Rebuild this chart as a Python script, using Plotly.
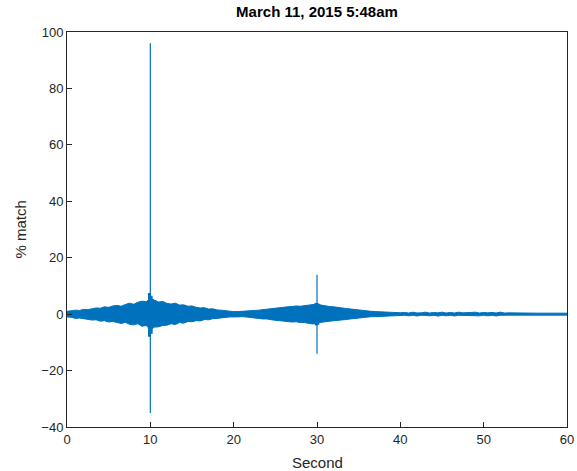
import plotly.graph_objects as go

# Time grid (seconds), 0.5 s steps from 0 to 60
TIME = [i * 0.5 for i in range(121)]

# Upper envelope of the % match signal
UPPER = [1.0, 1.2, 1.4, 1.3, 1.7, 1.6, 2.0, 2.2, 2.1, 2.6, 2.4, 2.9, 3.1, 2.8, 3.4, 3.9, 3.5, 4.2, 4.6, 4.4,
         5.6, 4.8, 4.3, 4.5, 3.8, 3.6, 3.9, 3.2, 3.3, 2.8, 2.9, 2.4, 2.2, 2.3, 1.8, 1.9, 1.5, 1.4, 1.2, 1.1,
         0.9,
         0.9, 1.0, 0.9, 1.1, 1.3, 1.4, 1.6, 1.8, 1.9, 2.1, 2.3, 2.4, 2.6, 2.7, 2.9, 2.8, 3.0, 3.1, 3.3, 3.6,
         3.2, 2.9, 2.7, 2.6, 2.3, 2.2, 2.0, 1.8, 1.6, 1.5, 1.2, 1.1, 1.0, 0.9, 0.8, 0.7, 0.7, 0.6, 0.6, 0.5,
         0.6, 0.4, 0.7, 0.4, 0.45, 0.7, 0.4, 0.6, 0.45, 0.7, 0.4, 0.6, 0.4, 0.7, 0.45, 0.4, 0.6, 0.7, 0.4, 0.6,
         0.45, 0.6, 0.4, 0.7, 0.4, 0.45, 0.4, 0.35, 0.35, 0.35, 0.35, 0.35, 0.35, 0.35, 0.35, 0.35, 0.35, 0.35,
         0.35, 0.35]

# Lower envelope
LOWER = [-1.0, -1.1, -1.5, -1.4, -1.6, -1.9, -2.1, -2.0, -2.5, -2.3, -2.8, -2.6, -3.0, -3.3, -2.9, -3.6, -3.8, -3.4, -4.3, -4.0,
         -5.5, -4.6, -4.5, -4.0, -3.9, -3.4, -3.7, -3.0, -3.2, -2.6, -2.7, -2.3, -2.4, -1.9, -2.0, -1.6, -1.5, -1.3, -1.3, -1.0,
         -1.0,
         -0.9, -0.9, -1.0, -1.2, -1.2, -1.5, -1.7, -1.7, -2.0, -2.2, -2.3, -2.5, -2.6, -2.8, -2.7, -3.0, -3.0, -3.2, -3.5, -3.1,
         -2.8, -2.7, -2.5, -2.4, -2.2, -2.1, -1.9, -1.7, -1.5, -1.4, -1.2, -1.0, -0.9, -0.9, -0.8, -0.7, -0.6, -0.6, -0.5, -0.5,
         -0.4, -0.6, -0.4, -0.65, -0.4, -0.45, -0.6, -0.4, -0.7, -0.4, -0.6, -0.4, -0.65, -0.4, -0.45, -0.6, -0.4, -0.45, -0.6, -0.4,
         -0.6, -0.4, -0.65, -0.4, -0.45, -0.4, -0.4, -0.35, -0.35, -0.35, -0.35, -0.35, -0.35, -0.35, -0.35, -0.35, -0.35, -0.35,
         -0.35, -0.35]

# Spikes (time, max, min)
SPIKE_T = [10.0, 30.0]
SPIKE_MAX = [96.0, 14.0]
SPIKE_MIN = [-35.0, -14.0]

# Small bumps around the spikes
BUMP_T = [9.9, 10.1, 29.9, 30.1]
BUMP_MAX = [7.5, 6.5, 4.0, 3.8]
BUMP_MIN = [-8.0, -7.0, -4.0, -3.8]

BLUE = "#0072BD"
INK = "#262626"
FONT = "Liberation Sans, Arial, sans-serif"

fig = go.Figure()

fig.add_trace(go.Scatter(x=TIME, y=UPPER, mode="lines",
                         line=dict(color=BLUE, width=1), hoverinfo="skip", showlegend=False))
fig.add_trace(go.Scatter(x=TIME, y=LOWER, mode="lines", fill="tonexty", fillcolor=BLUE,
                         line=dict(color=BLUE, width=1), hoverinfo="skip", showlegend=False))

bx, by = [], []
for t, hi, lo in zip(BUMP_T, BUMP_MAX, BUMP_MIN):
    bx += [t, t, None]
    by += [hi, lo, None]
fig.add_trace(go.Scatter(x=bx, y=by, mode="lines", line=dict(color=BLUE, width=3),
                         hoverinfo="skip", showlegend=False))

sx, sy = [], []
for t, hi, lo in zip(SPIKE_T, SPIKE_MAX, SPIKE_MIN):
    sx += [t, t, None]
    sy += [hi, lo, None]
fig.add_trace(go.Scatter(x=sx, y=sy, mode="lines", line=dict(color=BLUE, width=1.2),
                         hoverinfo="skip", showlegend=False))

axis_common = dict(showline=True, linecolor=INK, linewidth=1, mirror=True,
                   ticks="inside", ticklen=5, tickcolor=INK, tickwidth=1,
                   showgrid=False, zeroline=False, automargin=False,
                   tickfont=dict(family=FONT, size=13, color=INK))

fig.update_layout(
    width=577, height=471,
    margin=dict(l=67, r=10, t=32, b=44),
    paper_bgcolor="white", plot_bgcolor="white",
    title=dict(text="<b>March 11, 2015 5:48am</b>", x=0.5, xref="paper", xanchor="center",
               y=1 - 12 / 471, yref="container", yanchor="middle",
               font=dict(family=FONT, size=15, color="black")),
    xaxis=dict(range=[0, 60], tickvals=[0, 10, 20, 30, 40, 50, 60], **axis_common),
    yaxis=dict(range=[-40, 100], tickvals=[-40, -20, 0, 20, 40, 60, 80, 100], **axis_common),
    annotations=[
        dict(text="Second", x=0.5, xref="paper", xanchor="center", y=0, yref="paper",
             yanchor="top", yshift=-25,
             showarrow=False, font=dict(family=FONT, size=15, color=INK)),
        dict(text="% match", x=0, xref="paper", xanchor="center", xshift=-47,
             y=0.5, yref="paper", yanchor="middle",
             textangle=-90, showarrow=False, font=dict(family=FONT, size=15, color=INK)),
    ],
)

fig.write_html("out.html", config={"displayModeBar": False},
               post_script="document.body.style.margin='0';document.body.style.overflow='hidden';")
